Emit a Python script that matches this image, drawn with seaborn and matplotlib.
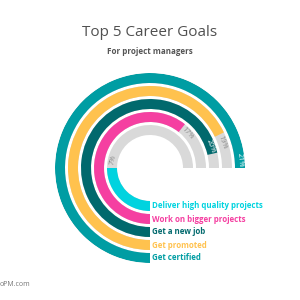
import numpy as np
import matplotlib
matplotlib.use("Agg")
import matplotlib.pyplot as plt
import matplotlib.transforms as mtransforms
import seaborn as sns

# Data (inner ring -> outer ring)
categories = ["Deliver high quality projects", "Work on bigger projects",
              "Get a new job", "Get promoted", "Get certified"]
values = [7, 17, 20, 19, 21]
value_labels = ["7%", "17%", "20%", "19%", "21%"]
colors = ["#00D3DF", "#F53FA1", "#01696D", "#FFC24E", "#009DA3"]

sns.set_theme(style="white")
plt.rcParams['font.family'] = ['Open Sans', 'DejaVu Sans']

fig = plt.figure(figsize=(3, 3), dpi=100)
R = 95.0
cx, cy = 150, 168
ax = fig.add_axes([(cx - R) / 300, (300 - cy - R) / 300, 2 * R / 300, 2 * R / 300],
                  projection='polar')
ax.set_theta_zero_location('S')
ax.set_theta_direction(-1)
ax.set_ylim(0, R)
ax.set_axis_off()

max_deg = 270.0
vmax = max(values)
radii = [38, 51, 64, 77, 90]
height = 10

for i, (cat, v, lab, col, r) in enumerate(zip(categories, values, value_labels, colors, radii)):
    ax.barh(r, np.deg2rad(max_deg), left=0, height=height, color="#D9D9D9", edgecolor='none')
    ang = v / vmax * max_deg
    ax.barh(r, np.deg2rad(ang), left=0, height=height, color=col, edgecolor='none')
    # value label
    off = np.rad2deg(8.0 / r)
    if max_deg - ang > 2 * off + 2:
        la = ang + off
        tc = "#8a8a8a"
    else:
        la = ang - off
        tc = "white"
    th = np.deg2rad(la)
    rot = np.degrees(np.arctan2(np.sin(th), -np.cos(th)))
    ax.text(th, r, lab, rotation=rot, rotation_mode='anchor', ha='center', va='center',
            fontsize=5.2, color=tc)
    # legend label at the start of the ring
    tr = mtransforms.offset_copy(ax.transData, fig=fig, x=2.5, y=0, units='dots')
    ax.text(0, r, cat, transform=tr, ha='left', va='center', fontsize=5.7,
            fontweight='bold', color=col)

fig.text(0.5, 1 - 32 / 300, "Top 5 Career Goals", ha='center', va='center',
         fontsize=11, color="#505050")
fig.text(0.5, 1 - 52 / 300, "For project managers", ha='center', va='center',
         fontsize=5.8, fontweight='bold', color="#555555")
fig.text(0.0, 1 - 285 / 300, "oPM.com", ha='left', va='center',
         fontsize=5, color="#777777")

fig.savefig("out.png", dpi=100, facecolor='white')
